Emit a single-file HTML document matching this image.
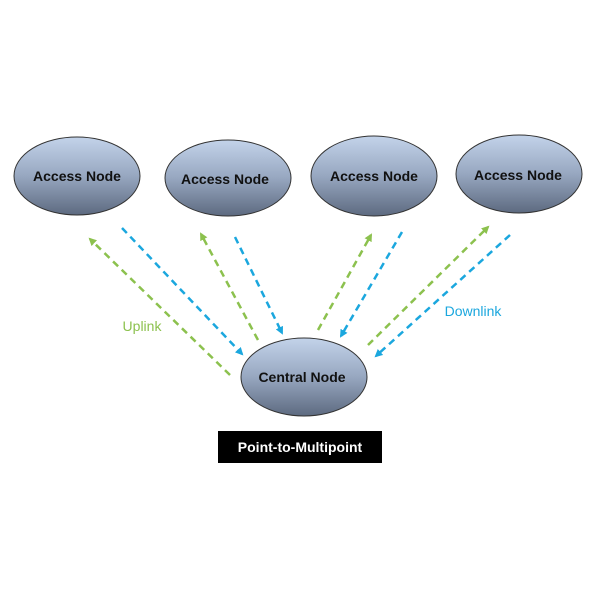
<!DOCTYPE html>
<html><head><style>body{margin:0;background:#fff;}svg{display:block}</style></head><body>
<svg width="600" height="600" viewBox="0 0 600 600" xmlns="http://www.w3.org/2000/svg">
<defs>
<linearGradient id="g" x1="0" y1="0" x2="0" y2="1">
<stop offset="0" stop-color="#c3d3ea"/><stop offset="0.5" stop-color="#97a7c0"/><stop offset="1" stop-color="#5d6a80"/>
</linearGradient>
<marker id="ag" markerWidth="8" markerHeight="8" refX="6" refY="4" orient="auto" markerUnits="userSpaceOnUse"><path d="M0,0 L8,4 L0,8 z" fill="#8cc14e"/></marker>
<marker id="ab" markerWidth="8" markerHeight="8" refX="6" refY="4" orient="auto" markerUnits="userSpaceOnUse"><path d="M0,0 L8,4 L0,8 z" fill="#1ba7de"/></marker>
</defs>
<g stroke="#333" stroke-width="1" fill="url(#g)">
<ellipse cx="77" cy="176" rx="63" ry="39"/>
<ellipse cx="228" cy="178" rx="63" ry="38"/>
<ellipse cx="374" cy="176" rx="63" ry="40"/>
<ellipse cx="519" cy="174" rx="63" ry="39"/>
<ellipse cx="304" cy="377" rx="63" ry="39"/>
</g>
<g font-family="Liberation Sans, sans-serif" font-weight="bold" font-size="14" fill="#111" text-anchor="middle">
<text x="77" y="181">Access Node</text>
<text x="225" y="184">Access Node</text>
<text x="374" y="181">Access Node</text>
<text x="518" y="180">Access Node</text>
<text x="302" y="382">Central Node</text>
</g>
<g stroke-width="2.5" stroke-dasharray="7,5" fill="none">
<line x1="230" y1="375" x2="90" y2="239" stroke="#8cc14e" marker-end="url(#ag)"/>
<line x1="122" y1="228" x2="242" y2="354" stroke="#1ba7de" marker-end="url(#ab)"/>
<line x1="258" y1="340" x2="201" y2="234" stroke="#8cc14e" marker-end="url(#ag)"/>
<line x1="235" y1="237" x2="282" y2="333" stroke="#1ba7de" marker-end="url(#ab)"/>
<line x1="318" y1="330" x2="371" y2="235" stroke="#8cc14e" marker-end="url(#ag)"/>
<line x1="402" y1="232" x2="341" y2="336" stroke="#1ba7de" marker-end="url(#ab)"/>
<line x1="368" y1="345" x2="488" y2="227" stroke="#8cc14e" marker-end="url(#ag)"/>
<line x1="510" y1="235" x2="376" y2="356" stroke="#1ba7de" marker-end="url(#ab)"/>
</g>
<text x="142" y="331" font-family="Liberation Sans, sans-serif" font-size="14" fill="#8cc14e" text-anchor="middle">Uplink</text>
<text x="473" y="316" font-family="Liberation Sans, sans-serif" font-size="14" fill="#1ba7de" text-anchor="middle">Downlink</text>
<rect x="218" y="431" width="164" height="32" fill="#000"/>
<text x="300" y="452" font-family="Liberation Sans, sans-serif" font-weight="bold" font-size="14" fill="#fff" text-anchor="middle">Point-to-Multipoint</text>
</svg>
</body></html>
